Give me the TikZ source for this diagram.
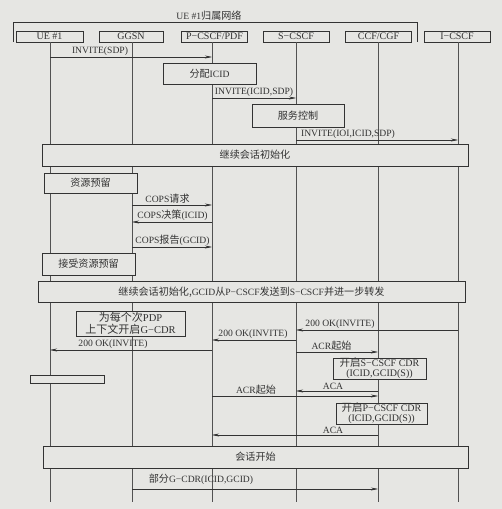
\documentclass[tikz,border=0pt]{standalone}
\usepackage{fontspec}
\setmainfont{Liberation Serif}
\newfontfamily\cjk[Scale=1.05]{Noto Sans CJK SC}
\usetikzlibrary{arrows.meta}
\definecolor{bg}{HTML}{E6E6E3}
\definecolor{ink}{HTML}{333333}
\begin{document}
\begin{tikzpicture}[x=1pt,y=-1pt,
  font=\fontsize{9.6}{10.5}\selectfont,
  every node/.style={text=ink},
  hdr/.style={draw=ink, fill=bg, line width=0.6pt, minimum height=11pt, inner sep=0pt, font=\fontsize{10}{11}\selectfont},
  box/.style={draw=ink, fill=bg, line width=0.6pt, inner sep=0pt, align=center},
  cdr/.style={box, font=\fontsize{10}{9.8}\selectfont},
  life/.style={draw=ink!85, line width=0.5pt},
  msg/.style={draw=ink, line width=0.5pt, -{Stealth[length=7pt,width=3pt]}},
  lbl/.style={anchor=south, inner sep=1pt}]

\fill[bg] (0,0) rectangle (502,509);
\useasboundingbox (0,0) rectangle (502,509);

% network bracket
\draw[ink, line width=0.6pt] (13,42) -- (13,22.5) -- (417,22.5) -- (417,42);
\node[inner sep=1pt] (net) at (209,16) {UE \#1{\cjk 归属网络}};

% header boxes
\node[hdr, minimum width=67pt] (ue)    at (49.5,36.5) {UE \#1};
\node[hdr, minimum width=64pt] (ggsn)  at (131,36.5)  {GGSN};
\node[hdr, minimum width=66pt] (pcscf) at (214.5,36.5) {P−CSCF/PDF};
\node[hdr, minimum width=66pt] (scscf) at (296,36.5)  {S−CSCF};
\node[hdr, minimum width=66pt] (ccf)   at (378.5,36.5) {CCF/CGF};
\node[hdr, minimum width=66pt] (icscf) at (457,36.5)  {I−CSCF};

% lifeline x positions
\coordinate (lu) at (50,0);
\coordinate (lg) at (132,0);
\coordinate (lp) at (212,0);
\coordinate (ls) at (296,0);
\coordinate (lc) at (378,0);
\coordinate (li) at (458,0);
\coordinate (bottom) at (0,502);

\draw[life] (lu |- ue.south)    -- (lu |- bottom);
\draw[life] (lg |- ggsn.south)  -- (lg |- bottom);
\draw[life] (lp |- pcscf.south) -- (lp |- bottom);
\draw[life] (ls |- scscf.south) -- (ls |- bottom);
\draw[life] (lc |- ccf.south)   -- (lc |- bottom);
\draw[life] (li |- icscf.south) -- (li |- bottom);

% boxes
\node[box, minimum width=93pt, minimum height=21pt] (alloc) at (209.5,73.5) {{\cjk 分配}ICID};
\node[box, minimum width=92pt, minimum height=23pt] (svc) at (298,115.5) {\cjk 服务控制};
\node[box, minimum width=426pt, minimum height=22pt] (cont1) at (255,155) {\cjk 继续会话初始化};
\node[box, minimum width=93pt, minimum height=20pt] (res) at (90.5,183) {\cjk 资源预留};
\node[box, minimum width=93pt, minimum height=22pt] (acc) at (88.5,264) {\cjk 接受资源预留};
\node[box, minimum width=427pt, minimum height=21pt] (cont2) at (251.5,292) {{\cjk 继续会话初始化,}GCID{\cjk 从}P−CSCF{\cjk 发送到}S−CSCF{\cjk 并进一步转发}};
\node[box, minimum width=109pt, minimum height=25pt, font=\fontsize{10.5}{12}\selectfont] (gcdr) at (130.5,323.5) {{\cjk 为每个次}PDP\\{\cjk 上下文开启}G−CDR};
\node[cdr, minimum width=93pt, minimum height=21pt] (scdr) at (379.5,368.5) {{\cjk 开启}S−CSCF CDR\\(ICID,GCID(S))};
\node[box, minimum width=74pt, minimum height=8pt] (blank) at (67,379) {};
\node[cdr, minimum width=91pt, minimum height=21pt] (pcdr) at (381.5,413.5) {{\cjk 开启}P−CSCF CDR\\(ICID,GCID(S))};
\node[box, minimum width=425pt, minimum height=22pt] (start) at (255.5,457) {\cjk 会话开始};

% messages
\draw[msg] (lu |- 0,57) -- (lp |- 0,57);
\node[lbl] (m1) at (100,57) {INVITE(SDP)};
\draw[msg] (lp |- 0,98) -- (ls |- 0,98);
\node[lbl] (m2) at (254,98) {INVITE(ICID,SDP)};
\draw[msg] (ls |- 0,140) -- (li |- 0,140);
\node[lbl] (m3) at (348,140) {INVITE(IOI,ICID,SDP)};

\draw[msg] (lg |- 0,205) -- (lp |- 0,205);
\node[lbl] (m4) at (167.5,205) {COPS{\cjk 请求}};
\draw[msg] (lp |- 0,222) -- (lg |- 0,222);
\node[lbl] (m5) at (172.5,222) {COPS{\cjk 决策}(ICID)};
\draw[msg] (lg |- 0,247) -- (lp |- 0,247);
\node[lbl] (m6) at (172.5,247) {COPS{\cjk 报告}(GCID)};

\draw[msg] (li |- 0,330) -- (ls |- 0,330);
\node[lbl] (m7) at (340,330) {200 OK(INVITE)};
\draw[msg] (ls |- 0,340) -- (lp |- 0,340);
\node[lbl] (m8) at (253,340) {200 OK(INVITE)};
\draw[msg] (lp |- 0,350) -- (lu |- 0,350);
\node[lbl] (m9) at (113,350) {200 OK(INVITE)};
\draw[msg] (ls |- 0,352) -- (lc |- 0,352);
\node[lbl] (m10) at (331.5,352) {ACR{\cjk 起始}};

\draw[msg] (lc |- 0,391) -- (ls |- 0,391);
\node[lbl] (m11) at (333,391) {ACA};
\draw[msg] (lp |- 0,396) -- (lc |- 0,396);
\node[lbl] (m12) at (256,396) {ACR{\cjk 起始}};
\draw[msg] (lc |- 0,435) -- (lp |- 0,435);
\node[lbl] (m13) at (333,435) {ACA};

\draw[msg] (lg |- 0,489) -- (lc |- 0,489);
\node[lbl] (m14) at (201,486) {{\cjk 部分}G−CDR(ICID,GCID)};
\end{tikzpicture}
\end{document}
